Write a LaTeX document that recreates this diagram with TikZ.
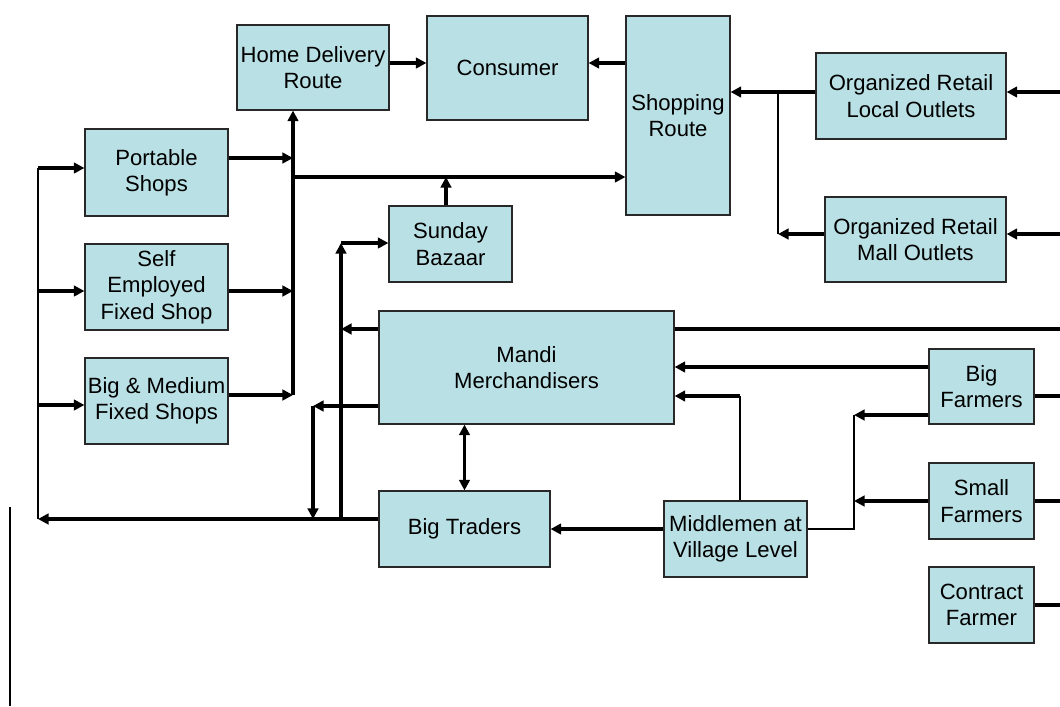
\documentclass[tikz,border=0pt]{standalone}
\usepackage{fontspec}
\setmainfont{Liberation Sans}
\usetikzlibrary{arrows.meta}
\definecolor{boxc}{RGB}{185,224,228}
\definecolor{edgec}{RGB}{40,40,40}
\tikzset{
  box/.style={draw=edgec, line width=0.8pt, fill=boxc, inner sep=0pt, align=center,
    font=\fontsize{15.7pt}{18.7pt}\selectfont},
  thk/.style={line width=2.4pt},
  thn/.style={line width=1.5pt},
  arr/.style={-{Triangle[length=7.5pt,width=7.5pt]}},
  darr/.style={{Triangle[length=7.5pt,width=7.5pt]}-{Triangle[length=7.5pt,width=7.5pt]}}
}
\begin{document}
\begin{tikzpicture}[x=0.025cm,y=-0.025cm]
\useasboundingbox[fill=white] (0,0) rectangle (1060,706);
% boxes
\node[box, minimum width=3.8cm, minimum height=2.125cm] (home) at (313,67.5) {Home Delivery\\Route};
\node[box, minimum width=4.025cm, minimum height=2.6cm] (cons) at (507.5,68) {Consumer};
\node[box, minimum width=2.6cm, minimum height=4.975cm] (shop) at (678,115.5) {Shopping\\Route};
\node[box, minimum width=4.75cm, minimum height=2.15cm] (orgl) at (911,96) {Organized Retail\\Local Outlets};
\node[box, minimum width=4.525cm, minimum height=2.125cm] (orgm) at (915.5,239.5) {Organized Retail\\Mall Outlets};
\node[box, minimum width=3.575cm, minimum height=2.175cm] (port) at (156.5,172.5) {Portable\\Shops};
\node[box, minimum width=3.575cm, minimum height=2.15cm] (self) at (156.5,287) {Self\\Employed\\Fixed Shop};
\node[box, minimum width=3.575cm, minimum height=2.15cm] (bigm) at (156.5,401) {Big \& Medium\\Fixed Shops};
\node[box, minimum width=3.075cm, minimum height=1.9cm] (sund) at (450.5,244) {Sunday\\Bazaar};
\node[box, minimum width=7.375cm, minimum height=2.825cm] (mandi) at (526.5,367.5) {Mandi\\Merchandisers};
\node[box, minimum width=4.275cm, minimum height=1.9cm] (trad) at (464.5,529) {Big Traders};
\node[box, minimum width=3.575cm, minimum height=1.9cm] (midd) at (735.5,539) {Middlemen at\\Village Level};
\node[box, minimum width=2.625cm, minimum height=1.875cm] (bigf) at (981.5,386.5) {Big\\Farmers};
\node[box, minimum width=2.625cm, minimum height=1.9cm] (smallf) at (981.5,501) {Small\\Farmers};
\node[box, minimum width=2.625cm, minimum height=1.9cm] (contf) at (981.5,605) {Contract\\Farmer};
% junction coordinates
\coordinate (busB) at (293,395);
\coordinate (leftT) at (38,168);
\coordinate (leftB) at (38,519);
\coordinate (vS) at (341,519);
\coordinate (vSt) at (341,243);
\coordinate (vM) at (313,406);
\coordinate (vMb) at (313,519);
\coordinate (fJ) at (854,415);
\coordinate (fJb) at (854,529);
\coordinate (mJ) at (740,396);
\coordinate (oJ) at (778,92);
\coordinate (oJb) at (778,234);
\coordinate (edge1) at (1060,329);
\coordinate (stray) at (10,507);
% top connectors
\draw[thk,arr] (home.east |- 0,63) -- (cons.west |- 0,63);
\draw[thk,arr] (shop.west |- 0,63) -- (cons.east |- 0,63);
\draw[thk,arr] (busB) -- (busB |- home.south);
\draw[thk,arr] (port.east |- 0,158) -- (busB |- 0,158);
\draw[thk,arr] (self.east |- 0,291) -- (busB |- 0,291);
\draw[thk,arr] (bigm.east |- busB) -- (busB);
\draw[thk,arr] (busB |- 0,177) -- (shop.west |- 0,177);
\draw[thk,arr] (sund.north -| 446,0) -- (446,177);
% Sunday Bazaar feed
\draw[thk,arr] (vS) -- (vSt);
\draw[thk,arr] (vSt) -- (sund.west |- vSt);
\draw[thk,arr] (mandi.west |- 0,329) -- (vS |- 0,329);
\draw[thk,arr] (mandi.west |- vM) -- (vM);
\draw[thk,arr] (vM) -- (vMb);
% Big Traders to the left
\draw[thk,arr] (trad.west |- leftB) -- (leftB);
\draw[thn] (leftB) -- (leftT);
\draw[thk,arr] (leftT) -- (port.west |- leftT);
\draw[thk,arr] (leftB |- 0,291) -- (self.west |- 0,291);
\draw[thk,arr] (leftB |- 0,405) -- (bigm.west |- 0,405);
\draw[thk,darr] (trad.north) -- (trad.north |- mandi.south);
% middlemen and farmers
\draw[thk,arr] (midd.west |- trad.east) -- (trad.east);
\draw[thn] (mJ |- midd.north) -- (mJ);
\draw[thk,arr] (mJ) -- (mandi.east |- mJ);
\draw[thk,arr] (bigf.west |- 0,367) -- (mandi.east |- 0,367);
\draw[thk,arr] (bigf.west |- fJ) -- (fJ);
\draw[thn] (fJ) -- (fJb) -- (midd.east |- fJb);
\draw[thk,arr] (smallf.west) -- (fJ |- smallf.west);
% lines leaving on the right
\draw[thk] (mandi.east |- edge1) -- (edge1);
\draw[thk] (bigf.east |- 0,396) -- (1060,396);
\draw[thk] (smallf.east) -- (1060,501);
\draw[thk] (contf.east) -- (1060,605);
\draw[thk,arr] (1060,92) -- (orgl.east |- 0,92);
\draw[thk,arr] (1060,234) -- (orgm.east |- 0,234);
% organised retail to shopping route
\draw[thk,arr] (orgl.west |- oJ) -- (shop.east |- oJ);
\draw[thn] (oJ) -- (oJb);
\draw[thk,arr] (orgm.west |- oJb) -- (oJb);
% stray line at lower left
\draw[thn] (stray) -- (10,706);
\end{tikzpicture}
\end{document}
